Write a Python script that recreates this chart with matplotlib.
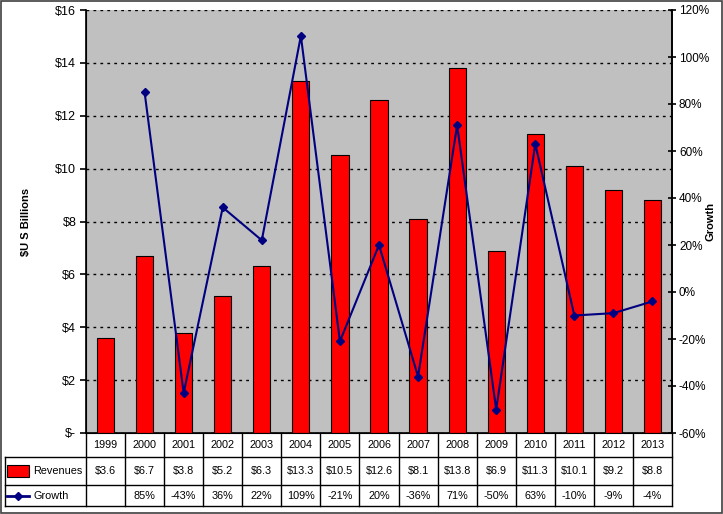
import numpy as np
import matplotlib.pyplot as plt
from matplotlib.patches import Rectangle
from matplotlib.lines import Line2D

plt.rcParams['font.family'] = ['Liberation Sans', 'DejaVu Sans']

years = ['1999', '2000', '2001', '2002', '2003', '2004', '2005', '2006',
         '2007', '2008', '2009', '2010', '2011', '2012', '2013']
revenues = [3.6, 6.7, 3.8, 5.2, 6.3, 13.3, 10.5, 12.6, 8.1, 13.8, 6.9, 11.3, 10.1, 9.2, 8.8]
growth = [None, 85, -43, 36, 22, 109, -21, 20, -36, 71, -50, 63, -10, -9, -4]

W, H = 723, 514
fig = plt.figure(figsize=(W / 100, H / 100), dpi=100)

# plot area in pixels
x0, x1, ytop, ybot = 86, 672, 10, 433
ax = fig.add_axes([x0 / W, 1 - ybot / H, (x1 - x0) / W, (ybot - ytop) / H])
ax.set_facecolor('#C0C0C0')

x = np.arange(len(years))
ax.bar(x, revenues, width=0.44, color='#FF0000', edgecolor='black', linewidth=0.8, zorder=3)
ax.set_xlim(-0.5, len(years) - 0.5)
ax.set_ylim(0, 16)
ax.set_yticks(range(0, 17, 2))
ax.set_yticklabels(['$-'] + ['$%d' % v for v in range(2, 17, 2)], fontsize=9)
ax.set_xticks([])
ax.grid(axis='y', color='black', linestyle=(0, (2, 3)), linewidth=1.0, zorder=1)
ax.set_axisbelow(True)
ax.spines['top'].set_visible(False)
for s in ['left', 'bottom', 'right']:
    ax.spines[s].set_linewidth(1.2)
ax.tick_params(axis='y', direction='out', length=4, width=1.2, pad=3)

ax2 = ax.twinx()
gx = [i for i, g in enumerate(growth) if g is not None]
gy = [g for g in growth if g is not None]
ax2.plot(gx, gy, color='#000080', linewidth=1.5, marker='D', markersize=4, zorder=4)
ax2.set_ylim(-60, 120)
ax2.set_yticks(range(-60, 121, 20))
ax2.set_yticklabels(['%d%%' % v for v in range(-60, 121, 20)], fontsize=8.5)
ax2.spines['top'].set_visible(False)
ax2.spines['right'].set_linewidth(1.2)
ax2.tick_params(axis='y', direction='inout', length=6, width=1.2, pad=2)

# axis titles
ymid = 1 - (ytop + ybot) / 2 / H
fig.text(26 / W, ymid, '$U S Billions', rotation=90, ha='center', va='center',
         fontsize=8, fontweight='bold')
fig.text(711 / W, ymid, 'Growth', rotation=90, ha='center', va='center',
         fontsize=8, fontweight='bold')

# data table below the plot
rows = [433, 457, 485, 506]
tab = fig.add_axes([x0 / W, 1 - rows[-1] / H, (x1 - x0) / W, (rows[-1] - rows[0]) / H])
tab.set_xlim(-0.5, len(years) - 0.5)
tab.set_ylim(rows[-1], rows[0])
tab.axis('off')
colw = (x1 - x0) / len(years)
xl = -0.5 - (x0 - 5) / colw

kw = dict(color='black', linewidth=1.0, clip_on=False)
for i in range(len(years) + 1):
    tab.add_line(Line2D([i - 0.5, i - 0.5], [rows[0], rows[-1]], **kw))
for r in rows[1:]:
    tab.add_line(Line2D([xl, len(years) - 0.5], [r, r], **kw))
tab.add_line(Line2D([xl, xl], [rows[1], rows[-1]], **kw))

fs = 7.8
for i, yr in enumerate(years):
    tab.text(i, (rows[0] + rows[1]) / 2, yr, ha='center', va='center', fontsize=fs)
    tab.text(i, (rows[1] + rows[2]) / 2, '$%.1f' % revenues[i], ha='center', va='center', fontsize=fs)
    if growth[i] is not None:
        tab.text(i, (rows[2] + rows[3]) / 2, '%d%%' % growth[i], ha='center', va='center', fontsize=fs)

# row labels with legend keys
ym1 = (rows[1] + rows[2]) / 2
ym2 = (rows[2] + rows[3]) / 2
kx0 = xl + 2 / colw
kx1 = xl + 24 / colw
tab.add_patch(Rectangle((kx0, ym1 - 6), kx1 - kx0, 12, facecolor='#FF0000',
                        edgecolor='black', linewidth=0.8, clip_on=False))
tab.add_line(Line2D([kx0, (kx0 + kx1) / 2, kx1], [ym2, ym2, ym2], color='#000080',
                    linewidth=2, marker='D', markersize=4, markevery=[1], clip_on=False))
tab.text(kx1 + 4 / colw, ym1, 'Revenues', ha='left', va='center', fontsize=fs)
tab.text(kx1 + 4 / colw, ym2, 'Growth', ha='left', va='center', fontsize=fs)

# outer chart border
fig.patches.append(Rectangle((0.001, 0.002), 0.997, 0.996, transform=fig.transFigure,
                             fill=False, edgecolor='#404040', linewidth=1.2))

fig.savefig('out.png', dpi=100)
